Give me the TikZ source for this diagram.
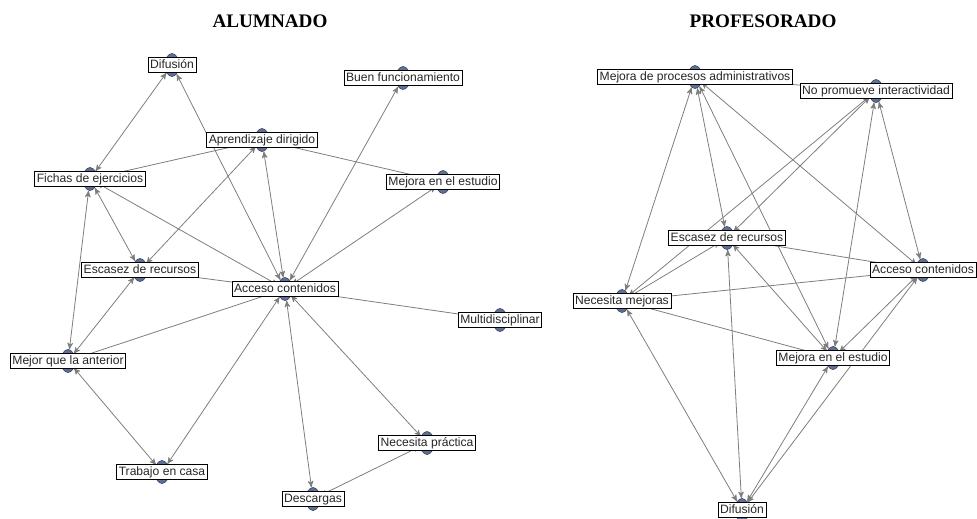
\documentclass[tikz,border=0pt]{standalone}
\usepackage{fontspec}
\setmainfont{Liberation Sans}
\newfontfamily\titlefont{Liberation Serif}
\usetikzlibrary{arrows, shapes.geometric}

\definecolor{nodeblue}{RGB}{96,110,152}
\definecolor{edgegray}{RGB}{125,125,125}

\tikzset{
  vertex/.style = {ellipse, draw=nodeblue!55!black, fill=nodeblue, line width=0.3pt,
                   minimum width=0.28cm, minimum height=0.46cm, inner sep=0pt},
  tag/.style = {draw=black, line width=0.45pt, fill=white, inner xsep=1.2pt, inner ysep=0.9pt,
                text height=5.4pt, text depth=1.6pt, text=black!85,
                font=\fontsize{6.9}{8}\selectfont},
  heading/.style = {font=\titlefont\bfseries\fontsize{10.9}{12}\selectfont},
  link/.style = {draw=edgegray, line width=0.45pt}
}

\begin{document}
\begin{tikzpicture}[x=0.02cm, y=-0.02cm, >=stealth', shorten >=0pt]
  \useasboundingbox (0,0) rectangle (977,518);

  \node[heading] (tA) at (270,21) {ALUMNADO};
  \node[heading] (tP) at (763,21) {PROFESORADO};

  % alumnado
  \node[vertex] (dif)   at (172,65)  {};
  \node[vertex] (buen)  at (403,78)  {};
  \node[vertex] (apr)   at (262,140) {};
  \node[vertex] (fich)  at (90,179)  {};
  \node[vertex] (mee)   at (443,182) {};
  \node[vertex] (esc)   at (140,270) {};
  \node[vertex] (acc)   at (285,289) {};
  \node[vertex] (multi) at (500,320) {};
  \node[vertex] (mejor) at (68,361)  {};
  \node[vertex] (nec)   at (427,443) {};
  \node[vertex] (trab)  at (162,472) {};
  \node[vertex] (desc)  at (313,499) {};

  \path[<->, every edge/.style=link]
    (dif) edge (fich)
    (dif) edge (acc)
    (apr) edge (acc)
    (apr) edge (fich)
    (apr) edge (esc)
    (apr) edge (mee)
    (buen) edge (acc)
    (mee) edge (acc)
    (fich) edge (esc)
    (fich) edge (acc)
    (fich) edge (mejor)
    (esc) edge (acc)
    (esc) edge (mejor)
    (acc) edge (mejor)
    (acc) edge (trab)
    (mejor) edge (trab)
    (acc) edge (desc)
    (acc) edge (nec)
    (nec) edge (desc)
    (acc) edge (multi)
  ;

  \node[tag] (difL)   at (dif)   {Difusión};
  \node[tag] (buenL)  at (buen)  {Buen funcionamiento};
  \node[tag] (aprL)   at (apr)   {Aprendizaje dirigido};
  \node[tag] (fichL)  at (fich)  {Fichas de ejercicios};
  \node[tag] (meeL)   at (mee)   {Mejora en el estudio};
  \node[tag] (escL)   at (esc)   {Escasez de recursos};
  \node[tag] (accL)   at (acc)   {Acceso contenidos};
  \node[tag] (multiL) at (multi) {Multidisciplinar};
  \node[tag] (mejorL) at (mejor) {Mejor que la anterior};
  \node[tag] (necL)   at (nec)   {Necesita práctica};
  \node[tag] (trabL)  at (trab)  {Trabajo en casa};
  \node[tag] (descL)  at (desc)  {Descargas};

  % profesorado
  \node[vertex] (mpa)  at (695,77)  {};
  \node[vertex] (npi)  at (876,91)  {};
  \node[vertex] (esc2) at (727,238) {};
  \node[vertex] (acc2) at (923,270) {};
  \node[vertex] (nm)   at (622,301) {};
  \node[vertex] (mee2) at (833,358) {};
  \node[vertex] (dif2) at (742,510) {};

  \path[<->, every edge/.style=link]
    (mpa) edge (nm)
    (mpa) edge (esc2)
    (mpa) edge (mee2)
    (mpa) edge (acc2)
    (mpa) edge (npi)
    (npi) edge (esc2)
    (npi) edge (nm)
    (npi) edge (mee2)
    (npi) edge (acc2)
    (esc2) edge (nm)
    (esc2) edge (mee2)
    (esc2) edge (acc2)
    (esc2) edge (dif2)
    (nm) edge (acc2)
    (nm) edge (mee2)
    (nm) edge (dif2)
    (acc2) edge (mee2)
    (acc2) edge (dif2)
    (mee2) edge (dif2)
  ;

  \node[tag] (mpaL)  at (mpa)  {Mejora de procesos administrativos};
  \node[tag] (npiL)  at (npi)  {No promueve interactividad};
  \node[tag] (esc2L) at (esc2) {Escasez de recursos};
  \node[tag] (acc2L) at (acc2) {Acceso contenidos};
  \node[tag] (nmL)   at (nm)   {Necesita mejoras};
  \node[tag] (mee2L) at (mee2) {Mejora en el estudio};
  \node[tag] (dif2L) at (dif2) {Difusión};
\end{tikzpicture}
\end{document}
